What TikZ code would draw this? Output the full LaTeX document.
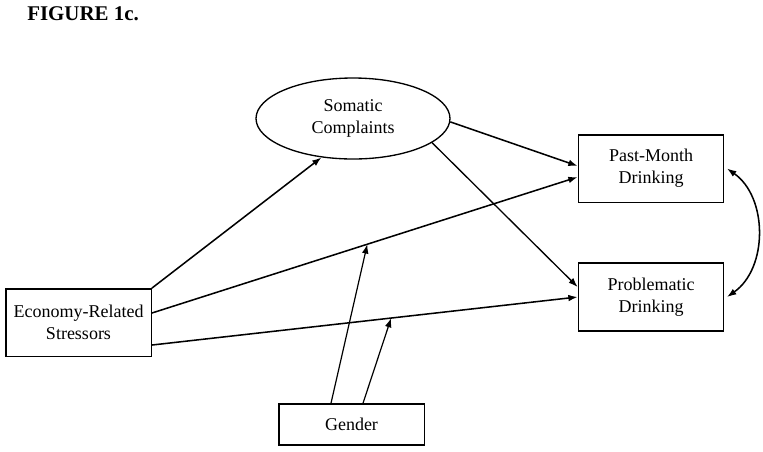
\documentclass[tikz,border=0pt]{standalone}
\usepackage{fontspec}
\setmainfont{Liberation Serif}
\usetikzlibrary{shapes.geometric,arrows.meta}

\begin{document}
\begin{tikzpicture}[x=0.75pt,y=-0.75pt]
    % Define colours
    \definecolor{lineColour}{HTML}{000000}

    % Define styles
    \tikzset{
        varbox/.style={draw=lineColour, line width=1pt, rectangle, align=center,
            minimum width=109pt, minimum height=50.5pt, inner sep=2pt,
            font=\fontsize{13.5}{16.5}\selectfont},
        latentvar/.style={draw=lineColour, line width=1pt, ellipse, align=center,
            minimum width=145.5pt, minimum height=60.75pt, inner sep=0pt,
            font=\fontsize{13.5}{16.5}\selectfont},
        effect/.style={-{Latex[length=7pt,width=5pt]}, draw=lineColour, line width=1.15pt},
    }

    % Fix the page size
    \useasboundingbox (0,0) rectangle (763,451);

    % Title
    \node[anchor=base west, inner sep=0pt, font=\bfseries\fontsize{15.7}{18}\selectfont] (title) at (27,20) {FIGURE 1c.};

    % Draw the variables
    \node[varbox] (econ) at (78.5,322.5) {Economy-Related\\Stressors};
    \node[latentvar] (somatic) at (353,118.5) {Somatic\\Complaints};
    \node[varbox] (past) at (651,168.5) {Past-Month\\Drinking};
    \node[varbox, minimum height=51pt] (prob) at (651,297) {Problematic\\Drinking};
    \node[varbox, minimum height=30.75pt] (gender) at (351.5,424.5) {Gender};

    % Draw the paths
    \draw[effect] (econ.north east) -- (somatic.231);
    \draw[effect] ([yshift=7.1pt]econ.east) -- coordinate[pos=0.506] (modPast) ([yshift=-6.4pt]past.west);
    \draw[effect] ([yshift=-16.9pt]econ.east) -- coordinate[pos=0.562] (modProb) (prob.west);
    \draw[effect] (somatic.-2) -- ([yshift=1.9pt]past.west);
    \draw[effect, line width=1pt] (somatic.-17) -- ([yshift=7.5pt]prob.west);

    % Moderation by gender
    \draw[effect, line width=0.9pt] ([xshift=-15.4pt]gender.north) -- (modPast);
    \draw[effect, line width=0.9pt] ([xshift=8.6pt]gender.north) -- (modProb);

    % Correlated outcomes
    \draw[{Latex[length=7pt,width=5pt]}-{Latex[length=7pt,width=5pt]}, line width=1.15pt]
        ([xshift=2pt]past.east) to[bend left=55] ([xshift=2pt]prob.east);

\end{tikzpicture}
\end{document}
